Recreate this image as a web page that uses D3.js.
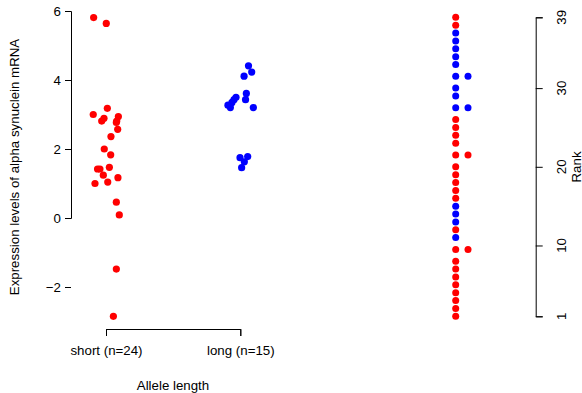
<!DOCTYPE html>
<html>
<head>
<meta charset="utf-8">
<script src="https://cdn.jsdelivr.net/npm/d3@7"></script>
<style>
  body { margin: 0; background: #fff; }
  svg { display: block; font-family: "Liberation Sans", Arial, sans-serif; }
</style>
</head>
<body>
<svg width="582" height="393"></svg>
<script>
// groups shown on the strip chart
var groups = ["short (n=24)", "long (n=15)"];

// expression values, one array per allele
var shortValues = [5.81, 5.64, 3.18, 3.00, 2.94, 2.89, 2.81, 2.81, 2.77, 2.57, 2.36, 2.00,
                   1.83, 1.47, 1.42, 1.42, 1.24, 1.17, 1.04, 1.00, 0.46, 0.09, -1.48, -2.85];
var longValues = [4.41, 4.23, 4.11, 3.61, 3.50, 3.43, 3.43, 3.35, 3.27, 3.20, 3.20,
                  1.78, 1.75, 1.63, 1.46];

// horizontal jitter of each point, in group units (like stripchart's jitter)
var shortJitter = [-0.092, 0.002, 0.010, -0.095, 0.092, -0.015, -0.032, 0.080, 0.077, 0.087, 0.037, -0.013,
                   0.035, 0.025, -0.063, -0.045, -0.020, 0.089, 0.013, -0.082, 0.077, 0.099, 0.077, 0.055];
var longJitter = [0.061, 0.085, 0.028, 0.045, -0.032, -0.047, 0.039, -0.062, -0.092, -0.074, 0.097,
                  0.055, -0.002, 0.030, 0.010];

var yTicks = [-2, 0, 2, 4, 6];
var rankTicks = [1, 10, 20, 30, 39];
var colors = {short: "#ff0000", long: "#0000ff"};

var svg = d3.select("svg");

// ---- left panel: strip chart ----
var x = d3.scaleLinear().domain([1, 2]).range([106, 240.3]);
var y = d3.scaleLinear().domain([0, 6]).range([218, 11]);

var pts = [];
shortValues.forEach(function(v, i) { pts.push({g: "short", v: v, j: shortJitter[i], pos: 1}); });
longValues.forEach(function(v, i) { pts.push({g: "long", v: v, j: longJitter[i], pos: 2}); });

svg.append("g")
    .attr("transform", "translate(71,0)")
    .call(d3.axisLeft(y).tickValues(yTicks).tickSizeOuter(0).tickSize(6).tickPadding(4)
      .tickFormat(function(d) { return d < 0 ? "\u2212" + Math.abs(d) : d; }))
    .call(function(g) {
      g.select(".domain").attr("stroke", "#000");
      g.selectAll("text").attr("font-size", 13.3).attr("fill", "#000").attr("font-family", null);
    });

svg.append("g")
    .attr("transform", "translate(0,329)")
    .call(d3.axisBottom(x).tickValues([1, 2]).tickSizeOuter(0).tickSize(7).tickPadding(10)
      .tickFormat(function(d) { return groups[d - 1]; }))
    .call(function(g) {
      g.select(".domain").attr("stroke", "#000");
      g.selectAll("text").attr("font-size", 13.3).attr("fill", "#000").attr("font-family", null);
    });

svg.append("text")
    .attr("x", 173).attr("y", 390)
    .attr("text-anchor", "middle")
    .attr("font-size", 13.3)
    .text("Allele length");

// centred on the plot region, like the rank label
svg.append("text")
    .attr("transform", "translate(19,167) rotate(-90)")
    .attr("text-anchor", "middle")
    .attr("font-size", 13.3)
    .text("Expression levels of alpha synuclein mRNA");

svg.append("g").selectAll("circle")
    .data(pts)
    .enter().append("circle")
      .attr("cx", function(d) { return x(d.pos + d.j); })
      .attr("cy", function(d) { return y(d.v); })
      .attr("r", 3.6)
      .attr("fill", function(d) { return colors[d.g]; });

// ---- right panel: ranks of all values ----
var all = pts.map(function(d) { return {g: d.g, v: d.v}; });
var sorted = all.slice().sort(function(a, b) { return a.v - b.v; });
// average ranks for ties, tied points side by side
var i = 0;
while (i < sorted.length) {
  var k = i;
  while (k + 1 < sorted.length && sorted[k + 1].v === sorted[i].v) k++;
  var r = (i + k) / 2 + 1;
  for (var m = i; m <= k; m++) { sorted[m].rank = r; sorted[m].slot = m - i; }
  i = k + 1;
}

var ry = d3.scaleLinear().domain([1, 39]).range([316.3, 17.3]);
var rx = d3.scaleLinear().domain([0, 1]).range([455.7, 468]);

svg.append("g").selectAll("circle")
    .data(sorted)
    .enter().append("circle")
      .attr("cx", function(d) { return rx(d.slot); })
      .attr("cy", function(d) { return ry(d.rank); })
      .attr("r", 3.5)
      .attr("fill", function(d) { return colors[d.g]; });

svg.append("g")
    .attr("transform", "translate(535.7,0)")
    .call(d3.axisRight(ry).tickValues(rankTicks).tickSizeOuter(0).tickSize(7).tickPadding(0)
      .tickFormat(function(d) { return ""; }))
    .call(function(g) { g.select(".domain").attr("stroke", "#000"); });

svg.append("g").selectAll("text")
    .data(rankTicks)
    .enter().append("text")
      .attr("transform", function(d) { return "translate(566," + ry(d) + ") rotate(-90)"; })
      .attr("text-anchor", "middle")
      .attr("font-size", 13.3)
      .text(function(d) { return d; });

svg.append("text")
    .attr("transform", "translate(580.5,167) rotate(-90)")
    .attr("text-anchor", "middle")
    .attr("font-size", 13.3)
    .text("Rank");
</script>
</body>
</html>
